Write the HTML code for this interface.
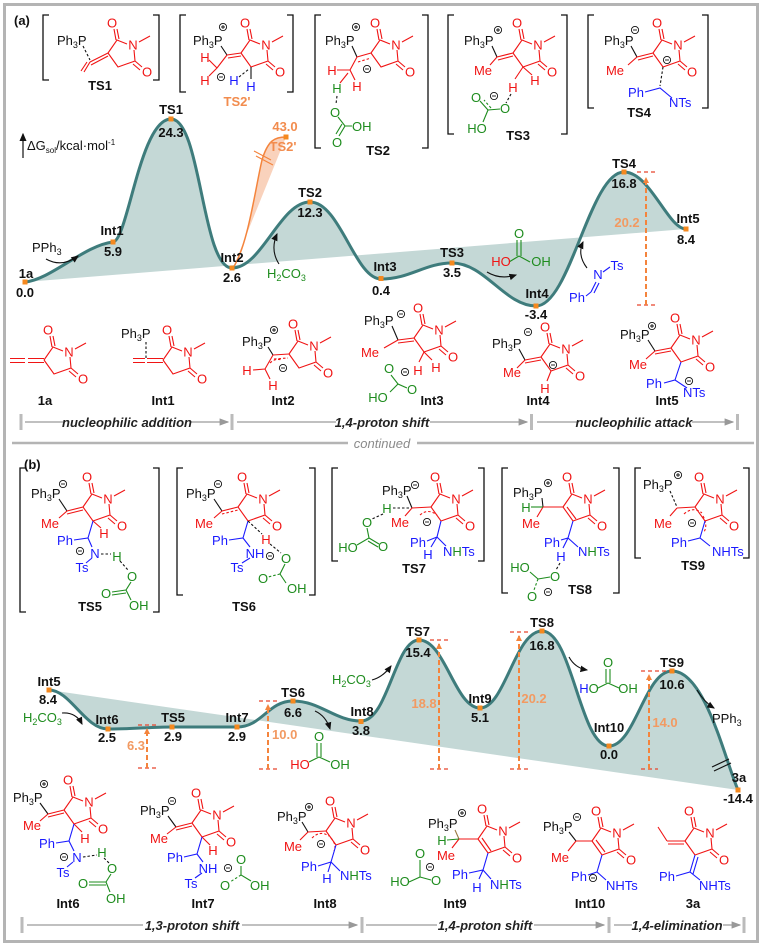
<!DOCTYPE html>
<html><head><meta charset="utf-8">
<style>
html,body{margin:0;padding:0;background:#fff;}
svg{display:block;}
text{font-family:"Liberation Sans","DejaVu Sans",sans-serif;font-size:13px;fill:#111;}
.b{font-weight:bold;}
.c{text-anchor:middle;}
.R{fill:#f01414;} .G{fill:#1e8c1e;} .B{fill:#1a1aff;} .O{fill:#f28c4e;}
.gy{fill:#888;}
.sr{stroke:#f01414;fill:none;stroke-width:1.1;}
.sk{stroke:#111;fill:none;stroke-width:1.1;}
.sg{stroke:#1e8c1e;fill:none;stroke-width:1.1;}
.sb{stroke:#1a1aff;fill:none;stroke-width:1.1;}
.d{stroke-dasharray:2.5,2;}
.br{stroke:#111;fill:none;stroke-width:1.3;}
.st{font-weight:bold;font-style:italic;font-size:13px;fill:#222;}
.sl{stroke:#9a9a9a;stroke-width:1.2;fill:none;}
.ov{stroke:#f4843c;stroke-width:2;stroke-dasharray:5,3;fill:none;}
.oc{stroke:#e8452c;stroke-width:1.3;stroke-dasharray:4,3;fill:none;}
.ov2{font-weight:bold;fill:#f29a62;}
.cv{fill:none;stroke:#3e7c7c;stroke-width:3;}
.fl{fill:#c4d8d6;stroke:none;}
.dot{fill:#f5891f;}
</style></head><body>
<svg width="763" height="946" viewBox="0 0 763 946" xmlns="http://www.w3.org/2000/svg">
<defs>
<marker id="ah" markerWidth="7" markerHeight="7" refX="6" refY="3.5" orient="auto"><path d="M0,0.5L7,3.5L0,6.5Z" fill="#111"/></marker>
<marker id="ag" markerWidth="8" markerHeight="7" refX="7" refY="3.5" orient="auto"><path d="M0,0.5L8,3.5L0,6.5Z" fill="#999"/></marker>
<marker id="ao" markerUnits="userSpaceOnUse" markerWidth="6" markerHeight="6" refX="5" refY="3" orient="auto"><path d="M0,0L6,3L0,6Z" fill="#f4843c"/></marker>
<g id="ring"><path class="sr" d="M-4,30L5,17L15,21M22,27L23,38L6,44L-4,30M4,17L2,6M7,16L5,6M23,38L30,44M21,41L28,47M27,19L38,13"/></g>
<g id="pl"><circle r="3.6" fill="#fff" stroke="#111" stroke-width=".9"/><path d="M-2,0H2M0,-2V2" stroke="#111" stroke-width=".9"/></g>
<g id="mi"><circle r="3.6" fill="#fff" stroke="#111" stroke-width=".9"/><path d="M-2,0H2" stroke="#111" stroke-width=".9"/></g>
</defs>
<rect x="0" y="0" width="763" height="946" fill="#fff"/>
<rect x="4.5" y="4.5" width="753" height="937" fill="none" stroke="#b4b4b4" stroke-width="3"/>

<!-- ================= PANEL A ================= -->
<text x="14" y="25" class="b">(a)</text>

<path class="br" d="M49,15H43V80H49M153,15H159V80H153"/>
<path class="br" d="M186,15H180V92H186M287,15H293V92H287"/>
<path class="br" d="M321,15H315V148H321M422,15H428V148H422"/>
<path class="br" d="M454,15H448V134H454M561,15H567V134H561"/>
<path class="br" d="M594,15H588V108H594M702,15H708V108H702"/>

<!-- TS1 -->
<g transform="translate(112,23)"><use href="#ring"/><text class="R c" y="4.5">O</text><text class="R c" x="21" y="26.5">N</text><text class="R c" x="35" y="53.5">O</text></g>
<text x="57" y="45">Ph<tspan dy="3" font-size="9">3</tspan><tspan dy="-3">P</tspan></text>
<path class="sk d" d="M83,46L90,60"/>
<path class="sr" d="M90,62L108,53M91,65L108,56M90,62L84,72M87,62L81,71"/>
<text x="100" y="90" class="b c">TS1</text>

<!-- TS2' -->
<g transform="translate(245,23)"><use href="#ring"/><text class="R c" y="4.5">O</text><text class="R c" x="21" y="26.5">N</text><text class="R c" x="35" y="53.5">O</text></g>
<text x="193" y="45">Ph<tspan dy="3" font-size="9">3</tspan><tspan dy="-3">P</tspan></text>
<use href="#pl" x="223" y="27"/>
<path class="sk" d="M221,46L227,55"/>
<path class="sr" d="M227,55L241,53M228,58L241,56M227,55L217,68M209,60L217,68M209,76L217,68"/>
<text x="205" y="62" class="R c">H</text><text x="205" y="85" class="R c">H</text>
<use href="#mi" x="221" y="77"/>
<text x="234" y="85" class="B c">H</text>
<path class="sk d" d="M239,77L249,69"/>
<path class="sk" d="M251,67L251,79"/>
<text x="251" y="91" class="B c">H</text>
<text x="237" y="106" class="b c O">TS2'</text>

<!-- TS2 -->
<g transform="translate(375,23)"><use href="#ring"/><text class="R c" y="4.5">O</text><text class="R c" x="21" y="26.5">N</text><text class="R c" x="35" y="53.5">O</text></g>
<text x="325" y="45">Ph<tspan dy="3" font-size="9">3</tspan><tspan dy="-3">P</tspan></text>
<use href="#pl" x="356" y="27"/>
<path class="sk" d="M352,46L357,57"/>
<path class="sr" d="M357,57L371,53M350,70L357,57M337,70L350,70M350,70L355,80M348,73L340,83"/>
<path class="sr d" d="M358,62L371,58"/>
<text x="332" y="75" class="R c">H</text><text x="357" y="91" class="R c">H</text>
<use href="#mi" x="367" y="69"/>
<text x="337" y="93" class="G c">H</text>
<path class="sk d" d="M337,96L336,104"/>
<text x="335" y="117" class="G c">O</text>
<path class="sg" d="M338,117L345,126L352,126M345,126L339,136M342,124L336,134"/>
<text x="352" y="131" class="G">OH</text>
<text x="337" y="147" class="G c">O</text>
<text x="378" y="155" class="b c">TS2</text>

<!-- TS3 -->
<g transform="translate(517,23)"><use href="#ring"/><text class="R c" y="4.5">O</text><text class="R c" x="21" y="26.5">N</text><text class="R c" x="35" y="53.5">O</text></g>
<text x="464" y="45">Ph<tspan dy="3" font-size="9">3</tspan><tspan dy="-3">P</tspan></text>
<use href="#pl" x="498" y="30"/>
<path class="sk" d="M492,46L497,57"/>
<path class="sr" d="M497,57L513,53M498,60L513,56M497,57L490,65M523,67L532,75M523,67L515,79"/>
<text x="483" y="75" class="R c">Me</text>
<text x="535" y="85" class="R c">H</text><text x="513" y="92" class="R c">H</text>
<path class="sk d" d="M511,94L506,103"/>
<text x="505" y="113" class="G c">O</text><text x="476" y="102" class="G c">O</text>
<use href="#mi" x="494" y="96"/>
<path class="sg" d="M488,110L500,109M488,110L480,101M488,110L483,122"/>
<path class="sg d" d="M491,108L484,100"/>
<text x="477" y="133" class="G c">HO</text>
<text x="518" y="140" class="b c">TS3</text>

<!-- TS4 -->
<g transform="translate(657,23)"><use href="#ring"/><text class="R c" y="4.5">O</text><text class="R c" x="21" y="26.5">N</text><text class="R c" x="35" y="53.5">O</text></g>
<text x="604" y="45">Ph<tspan dy="3" font-size="9">3</tspan><tspan dy="-3">P</tspan></text>
<use href="#mi" x="635" y="30"/>
<path class="sk" d="M631,46L637,57"/>
<path class="sr" d="M637,57L653,53M638,60L653,56M637,57L628,65"/>
<text x="615" y="75" class="R c">Me</text>
<use href="#mi" x="667" y="60"/>
<path class="sk d" d="M663,67L660,86"/>
<path class="sb" d="M645,92L660,88L672,98"/>
<text x="636" y="97" class="B c">Ph</text>
<text x="669" y="107" class="B">NTs</text>
<text x="639" y="117" class="b c">TS4</text>

<!-- axis label -->
<path d="M23,158V134" stroke="#111" stroke-width="1.2" marker-end="url(#ah)"/>
<text x="27" y="150" font-size="12">ΔG<tspan font-size="8" dy="3">sol</tspan><tspan dy="-3">/kcal·mol</tspan><tspan font-size="8" dy="-5">-1</tspan></text>

<!-- profile a -->
<path class="fl" d="M25,282 C50,280 85,245 113,242 C128,240 140,119 171,119 C201,119 202,268 232,268 C262,268 280,202 310,202 C340,202 355,279 381,279 C410,279 425,263 452,263 C485,263 505,306 536,306 C570,306 590,172 624,172 C650,172 668,229 686,229 L25,282Z"/>
<path d="M233,268 C248,245 255,190 262,160 C268,140 275,137 286,137 L233,268Z" fill="#f8c7ab" opacity="0.8"/>
<path d="M233,268 C248,245 255,190 262,160 C268,140 275,137 286,137" fill="none" stroke="#f4843c" stroke-width="1.5"/>
<path d="M254,151L271,160M256,156L273,165" stroke="#f4843c" stroke-width="1.2"/>
<path class="cv" d="M25,282 C50,280 85,245 113,242 C128,240 140,119 171,119 C201,119 202,268 232,268 C262,268 280,202 310,202 C340,202 355,279 381,279 C410,279 425,263 452,263 C485,263 505,306 536,306 C570,306 590,172 624,172 C650,172 668,229 686,229"/>
<g class="dot">
<rect x="22.5" y="279.5" width="5" height="5"/><rect x="110.5" y="239.5" width="5" height="5"/><rect x="168.5" y="116.5" width="5" height="5"/><rect x="229.5" y="265.5" width="5" height="5"/><rect x="283.5" y="134.5" width="5" height="5"/><rect x="307.5" y="199.5" width="5" height="5"/><rect x="378.5" y="276" width="5" height="5"/><rect x="449.5" y="260.5" width="5" height="5"/><rect x="533.5" y="303.5" width="5" height="5"/><rect x="621.5" y="169.5" width="5" height="5"/><rect x="683.5" y="226.5" width="5" height="5"/>
</g>
<text x="26" y="278" class="b c">1a</text><text x="25" y="297" class="b c">0.0</text>
<text x="112" y="235" class="b c">Int1</text><text x="113" y="256" class="b c">5.9</text>
<text x="171" y="114" class="b c">TS1</text><text x="171" y="137" class="b c">24.3</text>
<text x="232" y="262" class="b c">Int2</text><text x="232" y="282" class="b c">2.6</text>
<text x="285" y="131" class="b c O">43.0</text><text x="283" y="151" class="b c O">TS2'</text>
<text x="310" y="197" class="b c">TS2</text><text x="310" y="217" class="b c">12.3</text>
<text x="385" y="271" class="b c">Int3</text><text x="381" y="295" class="b c">0.4</text>
<text x="452" y="257" class="b c">TS3</text><text x="452" y="277" class="b c">3.5</text>
<text x="537" y="298" class="b c">Int4</text><text x="536" y="319" class="b c">-3.4</text>
<text x="624" y="168" class="b c">TS4</text><text x="624" y="188" class="b c">16.8</text>
<text x="688" y="223" class="b c">Int5</text><text x="686" y="244" class="b c">8.4</text>

<!-- barrier a -->
<path class="oc" d="M637,172H656M637,305H656"/>
<path class="ov" d="M646,305V178" marker-end="url(#ao)"/>
<text x="627" y="227" class="ov2 c">20.2</text>

<!-- annotations a -->
<text x="32" y="252">PPh<tspan dy="3" font-size="9">3</tspan></text>
<path class="sk" d="M46,259 Q62,268 78,256" marker-end="url(#ah)"/>
<path class="sk" d="M279,264 Q270,250 277,234" marker-end="url(#ah)"/>
<text x="267" y="278" class="G">H<tspan dy="3" font-size="9">2</tspan><tspan dy="-3">CO</tspan><tspan dy="3" font-size="9">3</tspan></text>
<path class="sk" d="M487,272 Q500,280 516,275" marker-end="url(#ah)"/>
<text x="519" y="238" class="G c">O</text>
<path class="sg" d="M517,240V256M521,240V256M519,256L509,262M519,256L530,262"/>
<text x="501" y="266" class="R c">HO</text><text x="541" y="266" class="G c">OH</text>
<path class="sk" d="M587,268 Q577,255 583,242" marker-end="url(#ah)"/>
<text x="598" y="279" class="B c">N</text><text x="617" y="270" class="B c">Ts</text>
<path class="sb" d="M603,272L610,267M596,282L591,292M599,283L594,293M591,292L586,296"/>
<text x="577" y="302" class="B c">Ph</text>

<!-- bottom structures a -->
<g transform="translate(48,330)"><use href="#ring"/><text class="R c" y="4.5">O</text><text class="R c" x="21" y="26.5">N</text><text class="R c" x="35" y="53.5">O</text></g>
<path class="sr" d="M28,358.5H44M28,362.5H44M10,358.5H25M10,362.5H25"/>
<text x="45" y="405" class="b c">1a</text>
<g transform="translate(167,330)"><use href="#ring"/><text class="R c" y="4.5">O</text><text class="R c" x="21" y="26.5">N</text><text class="R c" x="35" y="53.5">O</text></g>
<text x="121" y="338">Ph<tspan dy="3" font-size="9">3</tspan><tspan dy="-3">P</tspan></text>
<path class="sk d" d="M146,342V358"/>
<path class="sr" d="M147,358.5H163M147,362.5H163M133,358.5H145M133,362.5H145"/>
<text x="163" y="405" class="b c">Int1</text>
<g transform="translate(293,324)"><use href="#ring"/><text class="R c" y="4.5">O</text><text class="R c" x="21" y="26.5">N</text><text class="R c" x="35" y="53.5">O</text></g>
<text x="242" y="346">Ph<tspan dy="3" font-size="9">3</tspan><tspan dy="-3">P</tspan></text>
<use href="#pl" x="274" y="330"/>
<path class="sk" d="M268,347L273,355"/>
<path class="sr" d="M273,355L289,354M273,355L265,369M253,370L265,369M265,369L270,379"/>
<path class="sr d" d="M274,359L288,358M270,363Q275,358 282,360"/>
<text x="247" y="375" class="R c">H</text><text x="273" y="390" class="R c">H</text>
<use href="#mi" x="283" y="368"/>
<text x="283" y="405" class="b c">Int2</text>
<g transform="translate(418,308)"><use href="#ring"/><text class="R c" y="4.5">O</text><text class="R c" x="21" y="26.5">N</text><text class="R c" x="35" y="53.5">O</text></g>
<text x="364" y="325">Ph<tspan dy="3" font-size="9">3</tspan><tspan dy="-3">P</tspan></text>
<use href="#mi" x="401" y="314"/>
<path class="sk" d="M392,326L398,340"/>
<path class="sr" d="M398,340L414,338M398,343L414,341M398,340L384,348M424,352L419,362M424,352L432,360"/>
<text x="370" y="357" class="R c">Me</text>
<text x="418" y="375" class="R c">H</text><text x="436" y="372" class="R c">H</text>
<text x="389" y="373" class="G c">O</text><use href="#mi" x="405" y="372"/>
<path class="sg" d="M391,375L398,384L407,388M398,384L390,392"/>
<text x="412" y="394" class="G c">O</text><text x="378" y="402" class="G c">HO</text>
<text x="432" y="405" class="b c">Int3</text>
<g transform="translate(545,327)"><use href="#ring"/><text class="R c" y="4.5">O</text><text class="R c" x="21" y="26.5">N</text><text class="R c" x="35" y="53.5">O</text></g>
<text x="492" y="348">Ph<tspan dy="3" font-size="9">3</tspan><tspan dy="-3">P</tspan></text>
<use href="#mi" x="528" y="332"/>
<path class="sk" d="M519,349L525,360"/>
<path class="sr" d="M525,360L541,357M525,363L541,360M525,360L517,368M551,371L547,381"/>
<text x="512" y="377" class="R c">Me</text>
<use href="#mi" x="553" y="365"/>
<text x="545" y="393" class="R c">H</text>
<text x="538" y="405" class="b c">Int4</text>
<g transform="translate(675,318)"><use href="#ring"/><text class="R c" y="4.5">O</text><text class="R c" x="21" y="26.5">N</text><text class="R c" x="35" y="53.5">O</text></g>
<text x="620" y="339">Ph<tspan dy="3" font-size="9">3</tspan><tspan dy="-3">P</tspan></text>
<use href="#pl" x="652" y="326"/>
<path class="sk" d="M648,340L655,351"/>
<path class="sr" d="M655,351L671,348M655,354L671,351M655,351L646,359"/>
<text x="638" y="369" class="R c">Me</text>
<path class="sb" d="M681,362L675,380M664,383L675,380L687,388"/>
<text x="654" y="388" class="B c">Ph</text><use href="#mi" x="689" y="381"/>
<text x="683" y="397" class="B">NTs</text>
<text x="667" y="405" class="b c">Int5</text>

<!-- stage a -->
<rect x="19.5" y="414" width="3" height="16" fill="#bbb"/><rect x="230.5" y="414" width="3" height="16" fill="#bbb"/><rect x="530" y="414" width="3" height="16" fill="#bbb"/><rect x="736" y="414" width="3" height="16" fill="#bbb"/>
<path class="sl" d="M25,422H63"/><path class="sl" d="M191,422H228" marker-end="url(#ag)"/>
<text x="127" y="427" class="st c">nucleophilic addition</text>
<path class="sl" d="M237,422H336"/><path class="sl" d="M430,422H527" marker-end="url(#ag)"/>
<text x="382" y="427" class="st c">1,4-proton shift</text>
<path class="sl" d="M537,422H577"/><path class="sl" d="M692,422H733" marker-end="url(#ag)"/>
<text x="634" y="427" class="st c">nucleophilic attack</text>

<!-- divider -->
<path d="M12,443H348M417,443H754" stroke="#b4b4b4" stroke-width="2.5"/>
<text x="382" y="448" class="c" style="font-style:italic;fill:#8a8a8a;font-size:13px">continued</text>

<!-- ================= PANEL B ================= -->
<text x="24" y="469" class="b">(b)</text>

<path class="br" d="M26,468H20V612H26M153,468H159V612H153"/>
<path class="br" d="M183,468H177V595H183M309,468H315V595H309"/>
<path class="br" d="M338,468H332V561H338M478,468H484V561H478"/>
<path class="br" d="M508,468H502V593H508M613,468H619V593H613"/>
<path class="br" d="M641,468H635V558H641M743,468H749V558H743"/>

<!-- TS5 -->
<g transform="translate(87,477)"><use href="#ring"/><text class="R c" y="4.5">O</text><text class="R c" x="21" y="26.5">N</text><text class="R c" x="35" y="53.5">O</text></g>
<text x="31" y="498">Ph<tspan dy="3" font-size="9">3</tspan><tspan dy="-3">P</tspan></text>
<use href="#mi" x="63" y="484"/>
<path class="sk" d="M59,499L67,511"/>
<path class="sr" d="M67,511L83,507M67,514L83,510M67,511L59,518M93,521L101,528"/>
<text x="50" y="528" class="R c">Me</text><text x="104" y="538" class="R c">H</text>
<path class="sb" d="M93,521L88,538M74,540L88,538L92,547M92,558L86,563"/>
<text x="65" y="545" class="B c">Ph</text><text x="95" y="558" class="B c">N</text><use href="#mi" x="80" y="551"/>
<text x="82" y="572" class="B c">Ts</text>
<path class="sk d" d="M101,554H111M120,561L128,570"/>
<text x="117" y="561" class="G c">H</text>
<text x="132" y="581" class="G c">O</text>
<path class="sg" d="M131,582L126,590M126,590L112,592M126,593L112,595M126,590L131,600"/>
<text x="106" y="598" class="G c">O</text><text x="129" y="610" class="G">OH</text>
<text x="90" y="611" class="b c">TS5</text>

<!-- TS6 -->
<g transform="translate(242,477)"><use href="#ring"/><text class="R c" y="4.5">O</text><text class="R c" x="21" y="26.5">N</text><text class="R c" x="35" y="53.5">O</text></g>
<text x="186" y="498">Ph<tspan dy="3" font-size="9">3</tspan><tspan dy="-3">P</tspan></text>
<use href="#mi" x="218" y="484"/>
<path class="sk" d="M214,499L222,511"/>
<path class="sr" d="M222,511L238,507M222,511L214,518"/>
<path class="sr d" d="M222,514L238,510"/>
<text x="204" y="528" class="R c">Me</text>
<path class="sb" d="M248,521L243,538M229,540L243,538L250,547M250,558L242,563"/>
<text x="220" y="545" class="B c">Ph</text><text x="255" y="558" class="B c">NH</text><text x="237" y="572" class="B c">Ts</text>
<path class="sk d" d="M248,521L262,534M270,544L281,553"/>
<text x="266" y="544" class="R c">H</text>
<text x="286" y="563" class="G c">O</text><use href="#mi" x="270" y="556"/>
<path class="sg" d="M285,564L280,574L286,583"/><path class="sg d" d="M280,574L268,577"/>
<text x="263" y="583" class="G c">O</text><text x="287" y="593" class="G">OH</text>
<text x="244" y="611" class="b c">TS6</text>

<!-- TS7 -->
<g transform="translate(435,477)"><use href="#ring"/><text class="R c" y="4.5">O</text><text class="R c" x="21" y="26.5">N</text><text class="R c" x="35" y="53.5">O</text></g>
<text x="382" y="495">Ph<tspan dy="3" font-size="9">3</tspan><tspan dy="-3">P</tspan></text>
<use href="#mi" x="415" y="485"/>
<path class="sk" d="M407,496L412,508"/>
<path class="sr" d="M412,508L431,507M412,508L405,516"/>
<path class="sr d" d="M420,515Q428,508 437,515"/>
<text x="400" y="527" class="R c">Me</text><use href="#mi" x="427" y="522"/>
<path class="sk d" d="M393,508L411,508M383,514L372,519"/>
<text x="387" y="513" class="G c">H</text>
<text x="367" y="527" class="G c">O</text>
<path class="sg" d="M367,528L369,538L357,545M369,538L379,544M368,541L378,547"/>
<text x="348" y="552" class="G c">HO</text><text x="383" y="551" class="G c">O</text>
<path class="sb" d="M441,521L437,537M427,541L437,537L446,546M437,537L431,547"/>
<text x="418" y="547" class="B c">Ph</text><text x="428" y="559" class="B c">H</text>
<text x="443" y="556"><tspan class="B">N</tspan><tspan class="G">H</tspan><tspan class="B">Ts</tspan></text>
<text x="414" y="573" class="b c">TS7</text>

<!-- TS8 -->
<g transform="translate(567,477)"><use href="#ring"/><text class="R c" y="4.5">O</text><text class="R c" x="21" y="26.5">N</text><text class="R c" x="35" y="53.5">O</text></g>
<text x="513" y="497">Ph<tspan dy="3" font-size="9">3</tspan><tspan dy="-3">P</tspan></text>
<use href="#pl" x="548" y="483"/>
<path class="sk" d="M542,498L543,507"/>
<path class="sr" d="M543,507L563,507M543,507L537,517M567,507L576,519"/>
<path class="sg" d="M531,507L543,507"/>
<text x="526" y="512" class="G c">H</text><text x="531" y="528" class="R c">Me</text>
<path class="sb" d="M573,521L568,538M561,540L568,538L578,547M568,538L563,548"/>
<text x="552" y="547" class="B c">Ph</text><text x="561" y="561" class="B c">H</text>
<text x="578" y="556"><tspan class="B">N</tspan><tspan class="G">H</tspan><tspan class="B">Ts</tspan></text>
<path class="sk d" d="M560,563L556,570"/>
<text x="555" y="581" class="G c">O</text>
<path class="sg" d="M538,579L550,577M538,579L530,572"/><path class="sg d" d="M538,579L534,590"/>
<text x="520" y="572" class="G c">HO</text><text x="532" y="601" class="G c">O</text><use href="#mi" x="548" y="592"/>
<text x="580" y="594" class="b c">TS8</text>

<!-- TS9 -->
<g transform="translate(699,477)"><use href="#ring"/><text class="R c" y="4.5">O</text><text class="R c" x="21" y="26.5">N</text><text class="R c" x="35" y="53.5">O</text></g>
<text x="643" y="489">Ph<tspan dy="3" font-size="9">3</tspan><tspan dy="-3">P</tspan></text>
<use href="#pl" x="678" y="475"/>
<path class="sk d" d="M670,491L677,507"/>
<path class="sr" d="M677,508L695,507M677,508L670,516"/>
<path class="sr d" d="M684,514Q693,506 702,513M703,516Q708,525 704,532"/>
<text x="663" y="528" class="R c">Me</text><use href="#mi" x="692" y="523"/>
<path class="sb" d="M705,521L700,538M688,541L700,538L710,546"/>
<text x="679" y="547" class="B c">Ph</text>
<text x="712" y="556"><tspan class="B">N</tspan><tspan class="B">HTs</tspan></text>
<text x="693" y="570" class="b c">TS9</text>

<!-- profile b -->
<path class="fl" d="M49,690 C70,690 85,729 108,729 C135,729 150,727 172,727 C200,727 215,727 237,727 C262,727 268,701 293,701 C320,701 335,721 361,721 C388,721 395,640 419,640 C445,640 455,708 480,708 C505,708 515,631 542,631 C572,631 580,746 609,746 C635,746 645,671 672,671 C705,671 725,760 738,790 L49,690Z"/>
<path class="cv" d="M49,690 C70,690 85,729 108,729 C135,729 150,727 172,727 C200,727 215,727 237,727 C262,727 268,701 293,701 C320,701 335,721 361,721 C388,721 395,640 419,640 C445,640 455,708 480,708 C505,708 515,631 542,631 C572,631 580,746 609,746 C635,746 645,671 672,671 C705,671 725,760 738,790"/>
<path d="M712,767L729,759M714,771L731,763" stroke="#111" stroke-width="1.2"/>
<g class="dot">
<rect x="46.5" y="687.5" width="5" height="5"/><rect x="105.5" y="726.5" width="5" height="5"/><rect x="169.5" y="724.5" width="5" height="5"/><rect x="234.5" y="724.5" width="5" height="5"/><rect x="290.5" y="698.5" width="5" height="5"/><rect x="358.5" y="719" width="5" height="5"/><rect x="416.5" y="637.5" width="5" height="5"/><rect x="477.5" y="705.5" width="5" height="5"/><rect x="539.5" y="628.5" width="5" height="5"/><rect x="606.5" y="743.5" width="5" height="5"/><rect x="669.5" y="668.5" width="5" height="5"/><rect x="735.5" y="787.5" width="5" height="5"/>
</g>
<text x="49" y="686" class="b c">Int5</text><text x="48" y="704" class="b c">8.4</text>
<text x="107" y="724" class="b c">Int6</text><text x="107" y="742" class="b c">2.5</text>
<text x="173" y="722" class="b c">TS5</text><text x="173" y="741" class="b c">2.9</text>
<text x="237" y="722" class="b c">Int7</text><text x="237" y="741" class="b c">2.9</text>
<text x="293" y="697" class="b c">TS6</text><text x="293" y="717" class="b c">6.6</text>
<text x="362" y="716" class="b c">Int8</text><text x="361" y="735" class="b c">3.8</text>
<text x="418" y="636" class="b c">TS7</text><text x="418" y="657" class="b c">15.4</text>
<text x="480" y="703" class="b c">Int9</text><text x="480" y="722" class="b c">5.1</text>
<text x="542" y="627" class="b c">TS8</text><text x="542" y="650" class="b c">16.8</text>
<text x="609" y="732" class="b c">Int10</text><text x="609" y="759" class="b c">0.0</text>
<text x="672" y="667" class="b c">TS9</text><text x="672" y="689" class="b c">10.6</text>
<text x="739" y="782" class="b c">3a</text><text x="738" y="803" class="b c">-14.4</text>

<!-- barriers b -->
<path class="oc" d="M138,725H157M138,768H157"/>
<path class="ov" d="M147,768V729" marker-end="url(#ao)"/>
<text x="136" y="750" class="ov2 c">6.3</text>
<path class="oc" d="M259,701H278M259,769H278"/>
<path class="ov" d="M268,769V705" marker-end="url(#ao)"/>
<text x="272" y="739" class="ov2">10.0</text>
<path class="oc" d="M430,640H450M430,769H448"/>
<path class="ov" d="M439,769V644" marker-end="url(#ao)"/>
<text x="424" y="708" class="ov2 c">18.8</text>
<path class="oc" d="M510,632H530M510,769H528"/>
<path class="ov" d="M519,769V636" marker-end="url(#ao)"/>
<text x="534" y="703" class="ov2 c">20.2</text>
<path class="oc" d="M641,671H670M641,769H658"/>
<path class="ov" d="M649,769V675" marker-end="url(#ao)"/>
<text x="665" y="727" class="ov2 c">14.0</text>

<!-- annotations b -->
<text x="23" y="722" class="G">H<tspan dy="3" font-size="9">2</tspan><tspan dy="-3">CO</tspan><tspan dy="3" font-size="9">3</tspan></text>
<path class="sk" d="M62,713 Q76,712 82,724" marker-end="url(#ah)"/>
<path class="sk" d="M315,711 Q326,716 330,729" marker-end="url(#ah)"/>
<text x="319" y="741" class="G c">O</text>
<path class="sg" d="M317,743V757M321,743V757M319,757L309,762M319,757L330,762"/>
<text x="300" y="769" class="R c">HO</text><text x="340" y="769" class="G c">OH</text>
<text x="332" y="684" class="G">H<tspan dy="3" font-size="9">2</tspan><tspan dy="-3">CO</tspan><tspan dy="3" font-size="9">3</tspan></text>
<path class="sk" d="M372,680 Q383,677 391,666" marker-end="url(#ah)"/>
<path class="sk" d="M569,657 Q575,668 587,670" marker-end="url(#ah)"/>
<text x="608" y="667" class="G c">O</text>
<path class="sg" d="M606,669V683M610,669V683M608,683L598,688M608,683L619,688"/>
<text x="589" y="693" class="c"><tspan class="B">H</tspan><tspan class="G">O</tspan></text><text x="628" y="693" class="G c">OH</text>
<path class="sk" d="M697,690 Q704,702 714,708" marker-end="url(#ah)"/>
<text x="712" y="723">PPh<tspan dy="3" font-size="9">3</tspan></text>

<!-- bottom structures b -->
<g transform="translate(68,780)"><use href="#ring"/><text class="R c" y="4.5">O</text><text class="R c" x="21" y="26.5">N</text><text class="R c" x="35" y="53.5">O</text></g>
<text x="13" y="802">Ph<tspan dy="3" font-size="9">3</tspan><tspan dy="-3">P</tspan></text>
<use href="#pl" x="44" y="784"/>
<path class="sk" d="M40,803L48,814"/>
<path class="sr" d="M48,814L64,810M48,817L64,813M48,814L40,821M74,824L82,832"/>
<text x="32" y="830" class="R c">Me</text><text x="85" y="843" class="R c">H</text>
<path class="sb" d="M74,824L69,841M56,843L69,841L74,851M73,862L67,867"/>
<text x="47" y="848" class="B c">Ph</text><text x="77" y="862" class="B c">N</text><use href="#mi" x="64" y="857"/>
<text x="63" y="877" class="B c">Ts</text>
<path class="sk d" d="M83,857L97,855"/>
<text x="102" y="857" class="G c">H</text>
<path class="sk d" d="M104,858L109,863"/>
<text x="112" y="873" class="G c">O</text>
<path class="sg" d="M111,874L106,882L110,892M106,882L89,882M106,885L89,885"/>
<text x="83" y="888" class="G c">O</text><text x="106" y="903" class="G">OH</text>
<text x="68" y="908" class="b c">Int6</text>
<g transform="translate(196,793)"><use href="#ring"/><text class="R c" y="4.5">O</text><text class="R c" x="21" y="26.5">N</text><text class="R c" x="35" y="53.5">O</text></g>
<text x="140" y="815">Ph<tspan dy="3" font-size="9">3</tspan><tspan dy="-3">P</tspan></text>
<use href="#mi" x="172" y="801"/>
<path class="sk" d="M168,816L176,827"/>
<path class="sr" d="M176,827L192,823M176,830L192,826M176,827L167,834M202,837L210,845"/>
<text x="159" y="843" class="R c">Me</text><text x="213" y="855" class="R c">H</text>
<path class="sb" d="M202,837L197,854M184,857L197,854L203,862M202,873L195,878"/>
<text x="175" y="862" class="B c">Ph</text><text x="208" y="873" class="B c">NH</text><text x="191" y="888" class="B c">Ts</text>
<use href="#mi" x="228" y="868"/>
<text x="241" y="864" class="G c">O</text>
<path class="sg" d="M241,866V875L251,881"/><path class="sg d" d="M241,875L230,882"/>
<text x="225" y="890" class="G c">O</text><text x="250" y="890" class="G">OH</text>
<text x="203" y="908" class="b c">Int7</text>
<g transform="translate(330,801)"><use href="#ring"/><text class="R c" y="4.5">O</text><text class="R c" x="21" y="26.5">N</text><text class="R c" x="35" y="53.5">O</text></g>
<text x="277" y="821">Ph<tspan dy="3" font-size="9">3</tspan><tspan dy="-3">P</tspan></text>
<use href="#pl" x="309" y="807"/>
<path class="sk" d="M302,822L308,832"/>
<path class="sr" d="M308,832L326,831M308,832L300,840"/>
<path class="sr d" d="M312,838Q320,830 329,836M331,838Q337,845 334,851"/>
<text x="293" y="851" class="R c">Me</text><use href="#mi" x="321" y="844"/>
<path class="sb" d="M336,845L331,862M318,866L331,862L340,871M331,862L328,872"/>
<text x="309" y="871" class="B c">Ph</text><text x="327" y="883" class="B c">H</text>
<text x="340" y="880"><tspan class="B">N</tspan><tspan class="G">H</tspan><tspan class="B">Ts</tspan></text>
<text x="325" y="908" class="b c">Int8</text>
<g transform="translate(482,809)"><use href="#ring"/><text class="R c" y="4.5">O</text><text class="R c" x="21" y="26.5">N</text><text class="R c" x="35" y="53.5">O</text></g>
<text x="428" y="828">Ph<tspan dy="3" font-size="9">3</tspan><tspan dy="-3">P</tspan></text>
<use href="#pl" x="462" y="813"/>
<path d="M455,830L459,839" stroke="#9a7a40" stroke-width="1.1"/>
<path class="sr" d="M459,839L478,839M459,839L452,848M482,838L491,851"/>
<path class="sg" d="M447,840L459,839"/>
<text x="442" y="845" class="G c">H</text><text x="446" y="860" class="R c">Me</text>
<path class="sb" d="M488,853L483,870M469,873L483,870L491,879M483,870L479,879"/>
<text x="460" y="879" class="B c">Ph</text><text x="477" y="892" class="B c">H</text>
<text x="490" y="889"><tspan class="B">N</tspan><tspan class="G">H</tspan><tspan class="B">Ts</tspan></text>
<text x="420" y="858" class="G c">O</text><use href="#mi" x="430" y="867"/>
<path class="sg" d="M420,860V877L409,882M420,877L431,880"/>
<text x="400" y="886" class="G c">HO</text><text x="436" y="885" class="G c">O</text>
<text x="455" y="908" class="b c">Int9</text>
<g transform="translate(596,811)"><use href="#ring"/><text class="R c" y="4.5">O</text><text class="R c" x="21" y="26.5">N</text><text class="R c" x="35" y="53.5">O</text></g>
<text x="543" y="831">Ph<tspan dy="3" font-size="9">3</tspan><tspan dy="-3">P</tspan></text>
<use href="#mi" x="577" y="817"/>
<path class="sk" d="M569,832L576,841"/>
<path class="sr" d="M576,841L592,841M576,841L568,851M596,840L605,852"/>
<text x="560" y="862" class="R c">Me</text>
<path class="sb" d="M602,855L597,872M588,875L597,872L606,880"/>
<text x="579" y="881" class="B c">Ph</text><use href="#mi" x="593" y="878"/>
<text x="606" y="890" class="B">NHTs</text>
<text x="590" y="908" class="b c">Int10</text>
<g transform="translate(689,811)"><use href="#ring"/><text class="R c" y="4.5">O</text><text class="R c" x="21" y="26.5">N</text><text class="R c" x="35" y="53.5">O</text></g>
<path class="sr" d="M658,827L667,841M667,841L685,841M668,844L684,844"/>
<path class="sb" d="M695,855L690,872M698,857L693,874M676,876L690,872L700,880"/>
<text x="667" y="881" class="B c">Ph</text>
<text x="699" y="890" class="B">NHTs</text>
<text x="693" y="908" class="b c">3a</text>

<!-- stage b -->
<rect x="20.5" y="917" width="3" height="16" fill="#bbb"/><rect x="360.5" y="917" width="3" height="16" fill="#bbb"/><rect x="607.5" y="917" width="3" height="16" fill="#bbb"/><rect x="742.5" y="917" width="3" height="16" fill="#bbb"/>
<path class="sl" d="M27,925H143"/><path class="sl" d="M242,925H357" marker-end="url(#ag)"/>
<text x="192" y="930" class="st c">1,3-proton shift</text>
<path class="sl" d="M366,925H437"/><path class="sl" d="M534,925H604" marker-end="url(#ag)"/>
<text x="485" y="930" class="st c">1,4-proton shift</text>
<path class="sl" d="M614,925H632"/><path class="sl" d="M723,925H740" marker-end="url(#ag)"/>
<text x="677" y="930" class="st c">1,4-elimination</text>
</svg>
</body></html>
